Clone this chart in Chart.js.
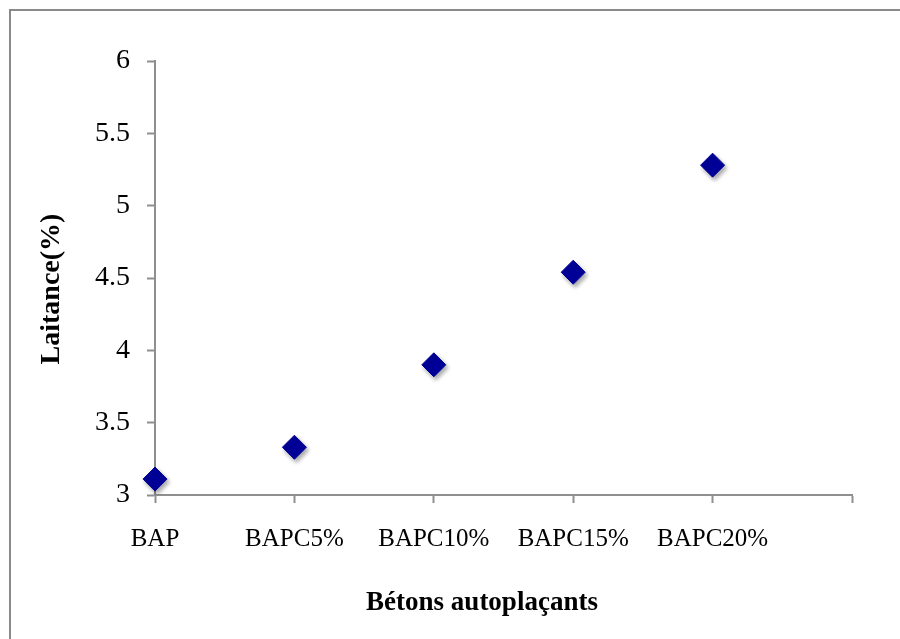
<!DOCTYPE html>
<html>
<head>
<meta charset="utf-8">
<title>Laitance des bétons autoplaçants</title>
<script src="https://cdn.jsdelivr.net/npm/chart.js@4/dist/chart.umd.min.js"></script>
<style>
    html, body { margin: 0; padding: 0; background: #fff; }
    #wrap { width: 900px; height: 639px; position: relative; }
</style>
</head>
<body>
<div id="wrap"><canvas id="chart" width="900" height="639"></canvas></div>
<script>
    'use strict';

    // ============================================
    // Data
    // ============================================

    const categories = ['BAP', 'BAPC5%', 'BAPC10%', 'BAPC15%', 'BAPC20%'];
    const laitance = [3.11, 3.33, 3.90, 4.54, 5.28];
    const yTicks = [3, 3.5, 4, 4.5, 5, 5.5, 6];

    const xTitle = 'Bétons autoplaçants';
    const yTitle = 'Laitance(%)';

    const AXIS_GRAY = '#8f8f8f';
    const SERIF = '"Liberation Serif", "DejaVu Serif", serif';

    // ============================================
    // Plugins
    // ============================================

    // Outer frame (only the left and top edges fall inside the picture)
    const framePlugin = {
        id: 'frame',
        beforeDraw(chart) {
            const ctx = chart.ctx;
            ctx.save();
            ctx.strokeStyle = '#8a8a8a';
            ctx.lineWidth = 2;
            ctx.beginPath();
            ctx.moveTo(10, chart.height + 5);
            ctx.lineTo(10, 10);
            ctx.lineTo(chart.width + 5, 10);
            ctx.stroke();
            ctx.restore();
        }
    };

    // Soft drop shadow under the markers
    const shadowPlugin = {
        id: 'markerShadow',
        beforeDatasetDraw(chart) {
            const ctx = chart.ctx;
            ctx.save();
            ctx.shadowColor = 'rgba(0, 0, 0, 0.35)';
            ctx.shadowBlur = 4;
            ctx.shadowOffsetX = 2;
            ctx.shadowOffsetY = 3;
        },
        afterDatasetDraw(chart) {
            chart.ctx.restore();
        }
    };

    // Axis titles, placed like the original (slightly off the plot centre)
    const axisTitlePlugin = {
        id: 'axisTitles',
        afterDraw(chart) {
            const ctx = chart.ctx;
            const area = chart.chartArea;
            ctx.save();
            ctx.fillStyle = '#000';
            ctx.textAlign = 'center';
            ctx.textBaseline = 'middle';

            ctx.font = 'bold 27px ' + SERIF;
            ctx.fillText(xTitle, area.left + 327, area.bottom + 108);

            ctx.translate(52, area.top + 228);
            ctx.rotate(-Math.PI / 2);
            ctx.font = 'bold 28px ' + SERIF;
            ctx.fillText(yTitle, 0, 0);
            ctx.restore();
        }
    };

    // ============================================
    // Chart
    // ============================================

    const ctx = document.getElementById('chart').getContext('2d');

    new Chart(ctx, {
        type: 'line',
        data: {
            // trailing empty label gives the axis its extra segment on the right
            labels: [...categories, ''],
            datasets: [{
                data: laitance,
                showLine: false,
                pointStyle: 'rectRot',
                pointRadius: 12,
                pointHoverRadius: 12,
                pointBackgroundColor: '#000099',
                pointBorderColor: '#000099',
                pointBorderWidth: 1
            }]
        },
        options: {
            responsive: false,
            animation: false,
            events: [],
            layout: {
                padding: { top: 61, right: 48, left: 0, bottom: 0 }
            },
            plugins: {
                legend: { display: false },
                tooltip: { enabled: false }
            },
            scales: {
                x: {
                    type: 'category',
                    offset: false,
                    border: { display: true, color: AXIS_GRAY, width: 2 },
                    grid: {
                        drawOnChartArea: false,
                        drawTicks: true,
                        tickLength: 8,
                        tickWidth: 2,
                        color: AXIS_GRAY
                    },
                    ticks: {
                        autoSkip: false,
                        maxRotation: 0,
                        padding: 21,
                        color: '#000',
                        font: { family: SERIF, size: 25 }
                    },
                    afterFit(scale) {
                        scale.height = 639 - 495;
                    }
                },
                y: {
                    min: yTicks[0],
                    max: yTicks[yTicks.length - 1],
                    afterBuildTicks(scale) {
                        scale.ticks = yTicks.map(v => ({ value: v }));
                    },
                    border: { display: true, color: AXIS_GRAY, width: 2 },
                    grid: {
                        drawOnChartArea: false,
                        drawTicks: true,
                        tickLength: 8,
                        tickWidth: 2,
                        color: AXIS_GRAY
                    },
                    ticks: {
                        padding: 17,
                        color: '#000',
                        font: { family: SERIF, size: 28 },
                        callback: v => String(v)
                    },
                    afterFit(scale) {
                        scale.width = 155;
                    }
                }
            }
        },
        plugins: [framePlugin, shadowPlugin, axisTitlePlugin]
    });
</script>
</body>
</html>
